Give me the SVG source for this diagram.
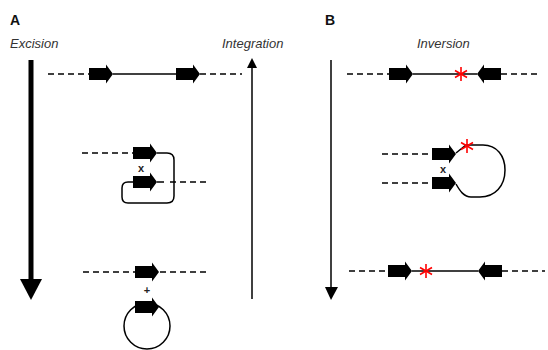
<svg xmlns="http://www.w3.org/2000/svg" xmlns:xlink="http://www.w3.org/1999/xlink" width="548" height="350" viewBox="0 0 548 350">
  <style>
    .panel { font-family: "Liberation Sans", Arial, sans-serif; font-weight: bold; font-size: 14px; fill: #111; }
    .cap { font-family: "Liberation Sans", Arial, sans-serif; font-style: italic; font-size: 13px; fill: #333; }
    .mark { font-family: "Liberation Sans", Arial, sans-serif; font-weight: bold; font-size: 11px; fill: #222; text-anchor: middle; }
    .dash { stroke: #000; stroke-width: 1.5; stroke-dasharray: 6 4; fill: none; }
    .line { stroke: #000; stroke-width: 1.5; fill: none; }
    .star line { stroke: #ff0000; stroke-width: 1.6; }
  </style>
  <defs>
    <!-- site arrow glyph, origin at the tail, pointing right -->
    <path id="site" d="M0,-6 H17 V-9.5 L24,0 L17,9.5 V6 H0 Z" fill="#000"/>
    <!-- red asterisk marking a mutation -->
    <g id="star" class="star">
      <line x1="0" y1="-7" x2="0" y2="7"/>
      <line x1="-6" y1="-3.5" x2="6" y2="3.5"/>
      <line x1="-6" y1="3.5" x2="6" y2="-3.5"/>
    </g>
  </defs>

  <!-- panel titles and captions -->
  <text class="panel" x="10" y="25">A</text>
  <text class="panel" x="325" y="25">B</text>
  <text class="cap" x="10" y="48">Excision</text>
  <text class="cap" x="222" y="48">Integration</text>
  <text class="cap" x="417" y="48">Inversion</text>

  <!-- process arrows -->
  <g id="connectors">
    <line x1="31" y1="60" x2="31" y2="282" stroke="#000" stroke-width="5"/>
    <polygon points="20,279 42,279 31,300" fill="#000"/>
    <line class="line" x1="252" y1="299" x2="252" y2="66"/>
    <polygon points="247,68 257,68 252,58" fill="#000"/>
    <line class="line" x1="331" y1="60" x2="331" y2="289"/>
    <polygon points="325,287 338,287 331,300" fill="#000"/>
  </g>

  <!-- A: linear substrate with two direct sites -->
  <g id="a-top">
    <line class="dash" x1="48" y1="74" x2="89" y2="74"/>
    <use xlink:href="#site" x="89" y="74"/>
    <line class="line" x1="113" y1="74" x2="176" y2="74"/>
    <use xlink:href="#site" x="176" y="74"/>
    <line class="dash" x1="200" y1="74" x2="242" y2="74"/>
  </g>

  <!-- A: synapsis of the two sites -->
  <g id="a-synapsis">
    <line class="dash" x1="82" y1="153" x2="133" y2="153"/>
    <path class="line" d="M157,153 H167 Q174,153 174,160 V196 Q174,203 167,203 H128 Q122,203 122,197 V188 Q122,182 128,182 H133"/>
    <use xlink:href="#site" x="133" y="153"/>
    <use xlink:href="#site" x="133" y="182"/>
    <line class="line" x1="157" y1="182" x2="164" y2="182"/>
    <line class="dash" x1="170" y1="182" x2="208" y2="182"/>
    <text class="mark" x="141" y="172">x</text>
  </g>

  <!-- A: products, linear plus circle -->
  <g id="a-products">
    <line class="dash" x1="83" y1="272" x2="135" y2="272"/>
    <use xlink:href="#site" x="135" y="272"/>
    <line class="dash" x1="160" y1="272" x2="206" y2="272"/>
    <text class="mark" x="147" y="294">+</text>
    <circle class="line" cx="147" cy="326" r="23"/>
    <use xlink:href="#site" x="135" y="307"/>
  </g>

  <!-- B: linear substrate with inverted sites -->
  <g id="b-top">
    <line class="dash" x1="347" y1="74" x2="389" y2="74"/>
    <use xlink:href="#site" x="389" y="74"/>
    <line class="line" x1="413" y1="74" x2="477" y2="74"/>
    <use xlink:href="#site" transform="translate(501,74) scale(-1,1)"/>
    <line class="dash" x1="501" y1="74" x2="541" y2="74"/>
    <use xlink:href="#star" x="461" y="74"/>
  </g>

  <!-- B: synapsis of the two sites -->
  <g id="b-synapsis">
    <line class="dash" x1="382" y1="154" x2="432" y2="154"/>
    <line class="dash" x1="382" y1="183" x2="432" y2="183"/>
    <path class="line" d="M456,153 L466,145 H483 C497,145 505,156 505,170 C505,186 495,197 480,197 H471 C464,197 460,191 456,184"/>
    <use xlink:href="#site" x="432" y="154"/>
    <use xlink:href="#site" x="432" y="183"/>
    <use xlink:href="#star" x="467" y="146"/>
    <text class="mark" x="443" y="173">x</text>
  </g>

  <!-- B: inverted product -->
  <g id="b-product">
    <line class="dash" x1="349" y1="271" x2="388" y2="271"/>
    <use xlink:href="#site" x="388" y="271"/>
    <line class="line" x1="412" y1="271" x2="478" y2="271"/>
    <use xlink:href="#site" transform="translate(502,271) scale(-1,1)"/>
    <line class="dash" x1="502" y1="271" x2="545" y2="271"/>
    <use xlink:href="#star" x="426" y="271"/>
  </g>
</svg>
